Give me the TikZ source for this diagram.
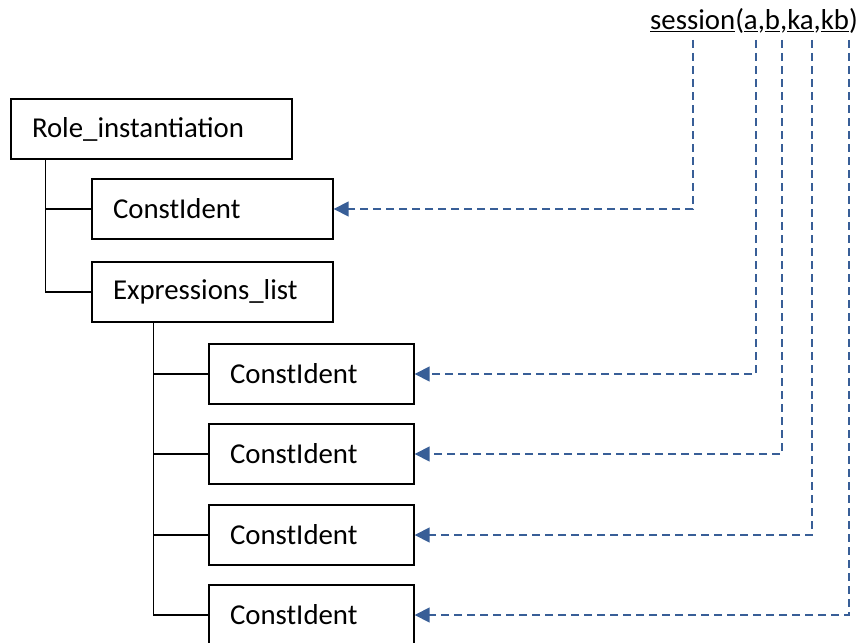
\documentclass[tikz,border=0pt]{standalone}
\usepackage{fontspec}
\setmainfont{Carlito}
\usetikzlibrary{arrows.meta}
\definecolor{linkblue}{RGB}{56,94,151}
\begin{document}
\begin{tikzpicture}[x=1pt,y=-1pt,
  every node/.style={font=\fontsize{28.8}{34}\selectfont},
  box/.style={draw, line width=1.4pt, minimum height=60, inner xsep=21pt, inner ysep=0pt, align=left},
  tree/.style={line width=1.4pt},
  link/.style={draw=linkblue, line width=1.6pt, dash pattern=on 8pt off 5pt,
    -{Triangle[length=15pt,width=15pt,fill=linkblue]}}]
\useasboundingbox (0,0) rectangle (861,642);

% call expression
\node[anchor=base west, inner sep=0pt] (sess) at (650,30)
  {\underline{session}(\underline{a},\underline{b},\underline{ka},\underline{kb})};
\coordinate (tsess) at (693,40);
\coordinate (ta) at (756,40);
\coordinate (tb) at (782,40);
\coordinate (tka) at (812,40);
\coordinate (tkb) at (849,40);

% parse tree
\node[box, text width=239] (role) at (151.5,129) {Role\_instantiation};
\node[box, text width=199] (cid) at (212.5,209) {ConstIdent};
\node[box, text width=199] (expr) at (212.5,292) {Expressions\_list};
\node[box, text width=163] (e1) at (311.5,374) {ConstIdent};
\node[box, text width=163] (e2) at (311.5,454) {ConstIdent};
\node[box, text width=163] (e3) at (311.5,535) {ConstIdent};
\node[box, text width=163] (e4) at (311.5,615) {ConstIdent};

\draw[tree] ([xshift=35]role.south west) |- (cid.west);
\draw[tree] ([xshift=35]role.south west) |- (expr.west);
\foreach \n in {e1,e2,e3,e4}
  \draw[tree] ([xshift=62]expr.south west) |- ([xshift=2]\n.west);

% argument links
\draw[link] (tsess) |- (cid.east);
\draw[link] (ta) |- (e1.east);
\draw[link] (tb) |- (e2.east);
\draw[link] (tka) |- (e3.east);
\draw[link] (tkb) |- (e4.east);
\end{tikzpicture}
\end{document}
